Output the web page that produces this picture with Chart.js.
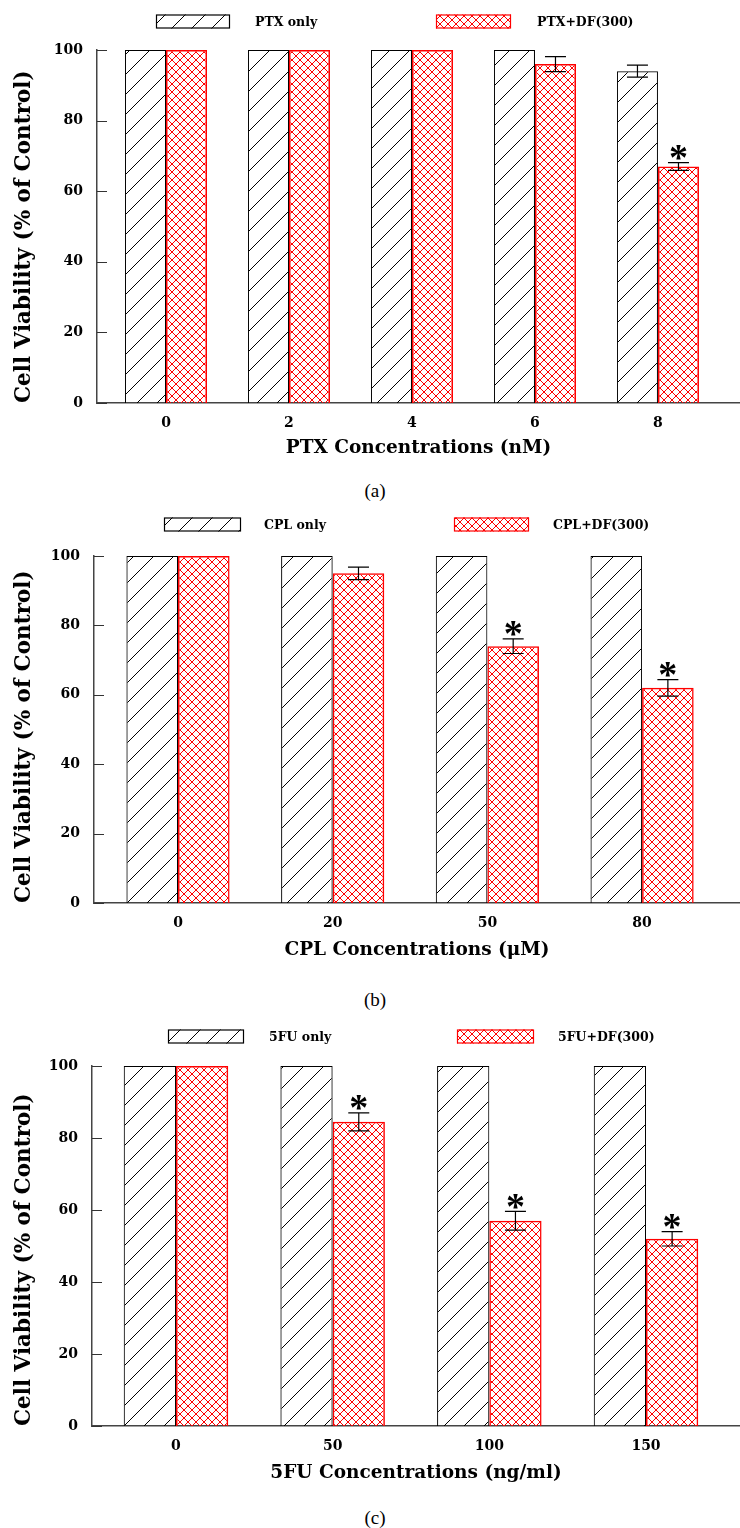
<!DOCTYPE html>
<html><head><meta charset="utf-8">
<script src="https://cdn.jsdelivr.net/npm/chart.js@4.4.1/dist/chart.umd.min.js"></script>
<style>
html,body{margin:0;padding:0;background:#fff;}
body{width:740px;height:1528px;position:relative;overflow:hidden;}
canvas{position:absolute;left:0;}
.cap{position:absolute;left:0;width:750px;text-align:center;font-family:"Liberation Serif","Times New Roman",serif;font-size:19px;line-height:20px;color:#000;}
</style></head><body>
<canvas id="cA" width="740" height="470" style="top:0px"></canvas>
<div class="cap" style="top:481px">(a)</div>
<canvas id="cB" width="740" height="500" style="top:470px"></canvas>
<div class="cap" style="top:990px">(b)</div>
<canvas id="cC" width="740" height="520" style="top:970px"></canvas>
<div class="cap" style="top:1508px">(c)</div>
<script>
// ---------- data ----------
const yTicks = [0, 20, 40, 60, 80, 100];
const yTitle = 'Cell Viability (% of Control)';

const ptxCategories = ['0', '2', '4', '6', '8'];
const ptxOnly = [100, 100, 100, 100, 94];
const ptxOnlyErr = [0, 0, 0, 0, 1.7];
const ptxDF = [100, 100, 100, 96, 67];
const ptxDFErr = [0, 0, 0, 2.1, 1.1];
const ptxDFSig = [false, false, false, false, true];

const cplCategories = ['0', '20', '50', '80'];
const cplOnly = [100, 100, 100, 100];
const cplOnlyErr = [0, 0, 0, 0];
const cplDF = [100, 95, 74, 62];
const cplDFErr = [0, 1.8, 2.1, 2.4];
const cplDFSig = [false, false, true, true];

const fuCategories = ['0', '50', '100', '150'];
const fuOnly = [100, 100, 100, 100];
const fuOnlyErr = [0, 0, 0, 0];
const fuDF = [100, 84.5, 57, 52];
const fuDFErr = [0, 2.5, 2.6, 2.0];
const fuDFSig = [false, true, true, true];

// ---------- patterns ----------
const pctx = document.createElement('canvas').getContext('2d');
function hatchPattern() {
  const c = document.createElement('canvas'); c.width = 20; c.height = 20;
  const g = c.getContext('2d');
  g.strokeStyle = '#000'; g.lineWidth = 1;
  g.beginPath();
  g.moveTo(0, 20); g.lineTo(20, 0);
  g.moveTo(-5, 5); g.lineTo(5, -5);
  g.moveTo(15, 25); g.lineTo(25, 15);
  g.stroke();
  return pctx.createPattern(c, 'repeat');
}
function crossPattern() {
  const c = document.createElement('canvas'); c.width = 8; c.height = 8;
  const g = c.getContext('2d');
  g.strokeStyle = '#ff0000'; g.lineWidth = 1;
  g.beginPath();
  g.moveTo(0, 0); g.lineTo(8, 8);
  g.moveTo(8, 0); g.lineTo(0, 8);
  g.stroke();
  return pctx.createPattern(c, 'repeat');
}
const HATCH = hatchPattern();
const CROSS = crossPattern();
const SERIF = '"DejaVu Serif", serif';

// ---------- plugins ----------
const innerTickPlugin = {
  id: 'innerTicks',
  afterDraw(chart, args, opts) {
    const ctx = chart.ctx, yS = chart.scales.y, left = chart.chartArea.left;
    ctx.save();
    ctx.strokeStyle = '#333'; ctx.lineWidth = 1;
    ctx.beginPath();
    yS.ticks.forEach((t, i) => {
      const py = Math.round(yS.getPixelForTick(i)) + 0.5;
      ctx.moveTo(left, py); ctx.lineTo(left + opts.len, py);
    });
    ctx.stroke();
    ctx.restore();
  }
};

const errorBarPlugin = {
  id: 'errorBars',
  afterDatasetsDraw(chart, args, opts) {
    const ctx = chart.ctx, yS = chart.scales.y;
    chart.data.datasets.forEach((ds, di) => {
      const meta = chart.getDatasetMeta(di);
      meta.data.forEach((bar, j) => {
        const v = ds.data[j].y, e = (ds.err || [])[j] || 0;
        const x = bar.x;
        let capTop = bar.y;
        if (e > 0) {
          const yt = yS.getPixelForValue(v + e), yb = yS.getPixelForValue(v - e);
          ctx.save();
          ctx.strokeStyle = '#000'; ctx.lineWidth = 1.2;
          ctx.beginPath();
          ctx.moveTo(x, yt); ctx.lineTo(x, yb);
          ctx.moveTo(x - opts.cap / 2, yt); ctx.lineTo(x + opts.cap / 2, yt);
          ctx.moveTo(x - opts.cap / 2, yb); ctx.lineTo(x + opts.cap / 2, yb);
          ctx.stroke();
          ctx.restore();
          capTop = yt;
        }
        if (ds.sig && ds.sig[j]) {
          ctx.save();
          ctx.font = 'bold 38px "Liberation Serif", serif';
          ctx.fillStyle = '#000';
          ctx.textAlign = 'left'; ctx.textBaseline = 'alphabetic';
          const m = ctx.measureText('*');
          const cx = x, cy = capTop - opts.starGap;
          const dx = cx - (m.actualBoundingBoxRight - m.actualBoundingBoxLeft) / 2;
          const dy = cy - (m.actualBoundingBoxDescent - m.actualBoundingBoxAscent) / 2;
          ctx.fillText('*', dx, dy);
          ctx.restore();
        }
      });
    });
  }
};

const legendPlugin = {
  id: 'boxLegend',
  afterDraw(chart, args, opts) {
    const ctx = chart.ctx;
    chart.data.datasets.forEach((ds, i) => {
      const p = opts.items[i];
      const top = opts.y - opts.boxH / 2;
      ctx.save();
      ctx.fillStyle = ds.backgroundColor;
      ctx.fillRect(p.boxX, top, p.boxW, opts.boxH);
      ctx.strokeStyle = ds.borderColor; ctx.lineWidth = 1.2;
      ctx.strokeRect(p.boxX + 0.5, top + 0.5, p.boxW - 1, opts.boxH - 1);
      ctx.fillStyle = '#000';
      ctx.font = 'bold 12.5px ' + SERIF;
      ctx.textAlign = 'left'; ctx.textBaseline = 'middle';
      ctx.fillText(ds.label, p.textX, opts.y + 1);
      ctx.restore();
    });
  }
};

// ---------- chart builder ----------
function makeChart(id, cfg) {
  const toXY = arr => arr.map((v, i) => ({x: i, y: v}));
  return new Chart(document.getElementById(id), {
    type: 'bar',
    data: {
      datasets: [
        {label: cfg.names[0], data: toXY(cfg.only), err: cfg.onlyErr,
         backgroundColor: HATCH, borderColor: '#000', borderWidth: 1},
        {label: cfg.names[1], data: toXY(cfg.df), err: cfg.dfErr, sig: cfg.dfSig,
         backgroundColor: CROSS, borderColor: '#ff0000', borderWidth: 1.5}
      ]
    },
    options: {
      responsive: false, animation: false, devicePixelRatio: 1,
      layout: {padding: {top: cfg.padTop, left: 0, right: 0, bottom: 0}},
      datasets: {bar: {categoryPercentage: 0.667, barPercentage: 1, grouped: true}},
      plugins: {
        legend: {display: false}, tooltip: {enabled: false},
        errorBars: {cap: 21, starGap: 10},
        innerTicks: {len: 10},
        boxLegend: {y: cfg.legendY, boxH: 14, items: cfg.legendPos}
      },
      scales: {
        x: {
          type: 'linear', min: cfg.xMin, max: cfg.xMax, offset: false,
          grid: {display: false},
          border: {display: true, color: '#444', width: 1.5},
          afterBuildTicks: s => { s.ticks = cfg.categories.map((c, i) => ({value: i})); },
          ticks: {autoSkip: false, maxRotation: 0, padding: 4, color: '#000',
                  font: {family: SERIF, size: 14, weight: 'bold'},
                  callback: v => cfg.categories[v]},
          title: {display: true, text: cfg.xTitle, color: '#000',
                  font: {family: SERIF, size: 18.5, weight: 'bold'},
                  padding: {top: 0, bottom: cfg.xTitlePad}},
          afterFit: s => { s.height = cfg.xHeight; }
        },
        y: {
          min: 0, max: 100,
          afterBuildTicks: s => { s.ticks = yTicks.map(v => ({value: v})); },
          ticks: {padding: 14, color: '#000', font: {family: SERIF, size: 14, weight: 'bold'}},
          grid: {display: false, drawTicks: false},
          border: {display: true, color: '#444', width: 1.5},
          title: {display: true, text: yTitle, color: '#000', align: 'start',
                  font: {family: SERIF, size: 21.5, weight: 'bold'},
                  padding: {top: 12, bottom: 0}},
          afterFit: s => { s.width = cfg.yWidth; }
        }
      }
    },
    plugins: [errorBarPlugin, legendPlugin, innerTickPlugin]
  });
}

makeChart('cA', {
  names: ['PTX only', 'PTX+DF(300)'], categories: ptxCategories,
  only: ptxOnly, onlyErr: ptxOnlyErr, df: ptxDF, dfErr: ptxDFErr, dfSig: ptxDFSig,
  xTitle: 'PTX Concentrations (nM)',
  padTop: 50, yWidth: 97, xHeight: 67, xTitlePad: 10.9,
  xMin: -0.561, xMax: 4.667,
  legendY: 21.5, legendPos: [{boxX: 156, boxW: 74, textX: 255}, {boxX: 436, boxW: 75, textX: 537}]
});
makeChart('cB', {
  names: ['CPL only', 'CPL+DF(300)'], categories: cplCategories,
  only: cplOnly, onlyErr: cplOnlyErr, df: cplDF, dfErr: cplDFErr, dfSig: cplDFSig,
  xTitle: 'CPL Concentrations (\u03bcM)',
  padTop: 86, yWidth: 94, xHeight: 67, xTitlePad: 8.9,
  xMin: -0.543, xMax: 3.633,
  legendY: 54.5, legendPos: [{boxX: 164, boxW: 77, textX: 264}, {boxX: 454, boxW: 75, textX: 553}]
});
makeChart('cC', {
  names: ['5FU only', '5FU+DF(300)'], categories: fuCategories,
  only: fuOnly, onlyErr: fuOnlyErr, df: fuDF, dfErr: fuDFErr, dfSig: fuDFSig,
  xTitle: '5FU Concentrations (ng/ml)',
  padTop: 96, yWidth: 92, xHeight: 64, xTitlePad: 5.9,
  xMin: -0.536, xMax: 3.6,
  legendY: 66.5, legendPos: [{boxX: 168, boxW: 76, textX: 269}, {boxX: 457, boxW: 77, textX: 558}]
});
</script>
</body></html>
